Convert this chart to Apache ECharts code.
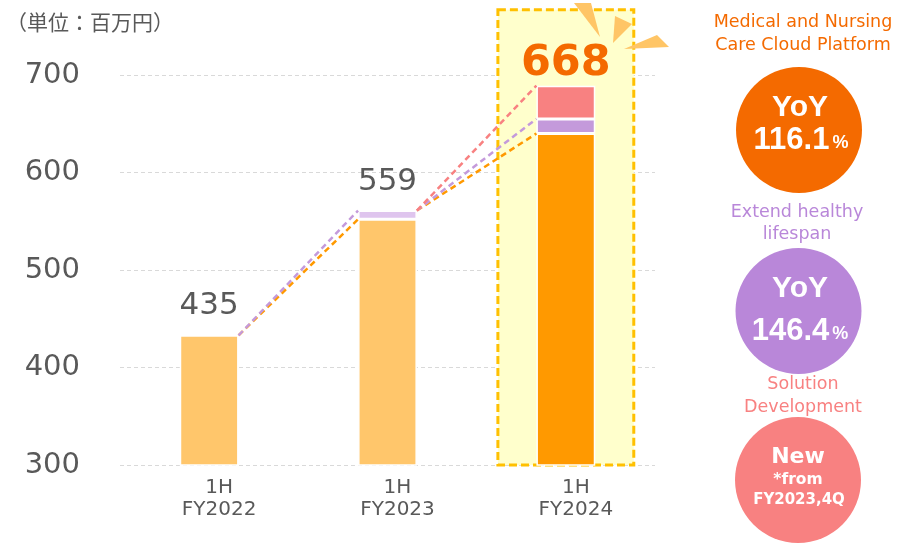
<!DOCTYPE html>
<html>
<head>
<meta charset="utf-8">
<script src="https://cdn.jsdelivr.net/npm/echarts@6/dist/echarts.min.js"></script>
<style>
  html, body { margin: 0; padding: 0; background: #fff; }
  #main { width: 916px; height: 546px; }
</style>
</head>
<body>
<div id="main"></div>
<script>
// 売上高（百万円） - values
const categories = ['1H\nFY2022', '1H\nFY2023', '1H\nFY2024'];
const careCloud = [433, 552, 640];     // Medical and Nursing Care Cloud Platform
const healthy = [null, 9, 15];         // Extend healthy lifespan
const solution = [null, null, 34];     // Solution Development
const totalLabels = ['435', '559', '668'];
const yTicks = [300, 400, 500, 600, 700];
const highlightRange = [[2, 300, 767]];  // category index, from, to

const careColors = ['#FFC66B', '#FFC66B', '#FF9900'];
const healthyColors = ['#DFC5EE', '#DFC5EE', '#C49ADB'];
const solutionColors = ['#F88181', '#F88181', '#F88181'];

const halfBar = 0.165; // half bar width, in category units

var chart = echarts.init(document.getElementById('main'));

function items(values, colors) {
    return values.map((v, i) => ({ value: v, itemStyle: { color: colors[i] } }));
}

// stack tops per layer
const layers = [careCloud, healthy, solution];
const layerTops = layers.map((_, li) => categories.map((c, i) => {
    let s = 0;
    for (let k = 0; k <= li; k++) s += layers[k][i] || 0;
    return s;
}));
const totals = layerTops[2];

// dashed connectors between neighbouring bars
const lineColors = ['#FF9900', '#C49ADB', '#F88181'];
const connectors = [];
layers.forEach((layer, li) => {
    for (let i = 0; i < categories.length - 1; i++) {
        if (li > 0 && !layer[i + 1]) continue;
        connectors.push({
            type: 'line',
            xAxisIndex: 1,
            symbol: 'none',
            silent: true,
            z: 3,
            lineStyle: { color: lineColors[li], width: 2.5, type: [6, 4] },
            data: [[i + halfBar, totals[i]], [i + 1 - halfBar, layerTops[li][i + 1]]]
        });
    }
});

const labelStyles = [
    { fontSize: 31, color: '#595959', distance: 13 },
    { fontSize: 31, color: '#595959', distance: 13 },
    { fontSize: 43, color: '#F46A00', fontWeight: 'bold', distance: 0 }
];

const textFont = 'DejaVu Sans';
const rayColor = '#FFC566';

var option = {
    animation: false,
    grid: { left: 120, right: 261, top: 75, bottom: 81 },
    xAxis: [
        {
            type: 'category',
            data: categories,
            axisLine: { show: false },
            axisTick: { show: false },
            axisLabel: {
                fontFamily: textFont, fontSize: 20, color: '#595959', lineHeight: 22, margin: 12,
                padding: [0, 0, 0, 20]
            }
        },
        { type: 'value', min: -0.5, max: 2.5, show: false }
    ],
    yAxis: {
        type: 'value',
        min: yTicks[0],
        max: yTicks[yTicks.length - 1],
        interval: 100,
        axisLine: { show: false },
        axisTick: { show: false },
        axisLabel: { fontFamily: textFont, fontSize: 29, color: '#595959', margin: 40 },
        splitLine: { lineStyle: { color: '#D9D9D9', type: [4, 3], width: 1 } }
    },
    series: [
        {
            type: 'custom',
            clip: false,
            z: 1,
            silent: true,
            data: highlightRange,
            renderItem: function (params, api) {
                const x = api.value(0);
                const p0 = api.coord([x, api.value(1)]);
                const p1 = api.coord([x, api.value(2)]);
                const w = api.size([1, 0])[0] * 0.762;
                return {
                    type: 'rect',
                    shape: { x: p0[0] - w / 2, y: p1[1], width: w, height: p0[1] - p1[1] },
                    style: { fill: '#FFFFCC', stroke: '#FFC000', lineWidth: 3, lineDash: [8, 4] }
                };
            }
        },
        {
            type: 'bar', stack: 'sales', barWidth: '33%', z: 2,
            itemStyle: { borderColor: '#fff', borderWidth: 1.5 },
            data: items(careCloud, careColors)
        },
        {
            type: 'bar', stack: 'sales', barWidth: '33%', z: 2,
            itemStyle: { borderColor: '#fff', borderWidth: 1.5 },
            data: items(healthy, healthyColors)
        },
        {
            type: 'bar', stack: 'sales', barWidth: '33%', z: 2,
            itemStyle: { borderColor: '#fff', borderWidth: 1.5 },
            data: items(solution, solutionColors)
        },
        ...connectors,
        {
            type: 'scatter',
            symbolSize: 1,
            z: 5,
            itemStyle: { color: 'rgba(0,0,0,0)', opacity: 1 },
            data: totals.map((t, i) => ({
                value: [i, t],
                label: Object.assign({
                    show: true, position: 'top', fontFamily: textFont,
                    formatter: totalLabels[i]
                }, labelStyles[i])
            }))
        }
    ],
    graphic: [
        {
            type: 'text', left: 6, top: 12, z: 10,
            style: { text: '（単位：百万円）', font: '21px "Noto Sans CJK JP"', fill: '#595959' }
        },
        // rays near the 668 label
        { type: 'polygon', z: 10, shape: { points: [[574, 3], [591, 3], [600, 37]] }, style: { fill: rayColor } },
        { type: 'polygon', z: 10, shape: { points: [[615, 16], [632, 24], [613, 43]] }, style: { fill: rayColor } },
        { type: 'polygon', z: 10, shape: { points: [[657, 35], [669, 47], [624, 49]] }, style: { fill: rayColor } },

        {
            type: 'text', x: 803, y: 34,
            style: {
                text: 'Medical and Nursing\nCare Cloud Platform', align: 'center', verticalAlign: 'middle',
                fontFamily: textFont, fontSize: 17.5, lineHeight: 23, fill: '#F46A00'
            }
        },
        { type: 'circle', shape: { cx: 799, cy: 130, r: 63 }, style: { fill: '#F46A00' } },
        {
            type: 'text', x: 800, y: 108,
            style: { text: 'YoY', align: 'center', verticalAlign: 'middle', fontFamily: 'Liberation Sans', fontWeight: 'bold', fontSize: 30, fill: '#fff' }
        },
        {
            type: 'text', x: 801, y: 140,
            style: {
                text: '{n|116.1}{p|%}', align: 'center', verticalAlign: 'middle',
                rich: {
                    n: { fontFamily: 'Liberation Sans', fontWeight: 'bold', fontSize: 31, lineHeight: 30, fill: '#fff', color: '#fff' },
                    p: { fontFamily: 'Liberation Sans', fontWeight: 'bold', fontSize: 18, lineHeight: 30, verticalAlign: 'bottom', padding: [0, 0, 3, 3], fill: '#fff', color: '#fff' }
                }
            }
        },

        {
            type: 'text', x: 797, y: 223,
            style: {
                text: 'Extend healthy\nlifespan', align: 'center', verticalAlign: 'middle',
                fontFamily: textFont, fontSize: 17.5, lineHeight: 22, fill: '#B987D9'
            }
        },
        { type: 'circle', shape: { cx: 798.5, cy: 311, r: 63 }, style: { fill: '#B987D9' } },
        {
            type: 'text', x: 800, y: 289,
            style: { text: 'YoY', align: 'center', verticalAlign: 'middle', fontFamily: 'Liberation Sans', fontWeight: 'bold', fontSize: 30, fill: '#fff' }
        },
        {
            type: 'text', x: 800, y: 331,
            style: {
                text: '{n|146.4}{p|%}', align: 'center', verticalAlign: 'middle',
                rich: {
                    n: { fontFamily: 'Liberation Sans', fontWeight: 'bold', fontSize: 31, lineHeight: 30, fill: '#fff', color: '#fff' },
                    p: { fontFamily: 'Liberation Sans', fontWeight: 'bold', fontSize: 18, lineHeight: 30, verticalAlign: 'bottom', padding: [0, 0, 3, 3], fill: '#fff', color: '#fff' }
                }
            }
        },

        {
            type: 'text', x: 803, y: 396,
            style: {
                text: 'Solution\nDevelopment', align: 'center', verticalAlign: 'middle',
                fontFamily: textFont, fontSize: 17.5, lineHeight: 23, fill: '#F88181'
            }
        },
        { type: 'circle', shape: { cx: 798, cy: 480, r: 63 }, style: { fill: '#F88181' } },
        {
            type: 'text', x: 798, y: 457,
            style: { text: 'New', align: 'center', verticalAlign: 'middle', fontFamily: textFont, fontWeight: 'bold', fontSize: 22, fill: '#fff' }
        },
        {
            type: 'text', x: 798, y: 480,
            style: { text: '*from', align: 'center', verticalAlign: 'middle', fontFamily: textFont, fontWeight: 'bold', fontSize: 15.5, fill: '#fff' }
        },
        {
            type: 'text', x: 799, y: 500,
            style: { text: 'FY2023,4Q', align: 'center', verticalAlign: 'middle', fontFamily: textFont, fontWeight: 'bold', fontSize: 15, fill: '#fff' }
        }
    ]
};

chart.setOption(option);
</script>
</body>
</html>
